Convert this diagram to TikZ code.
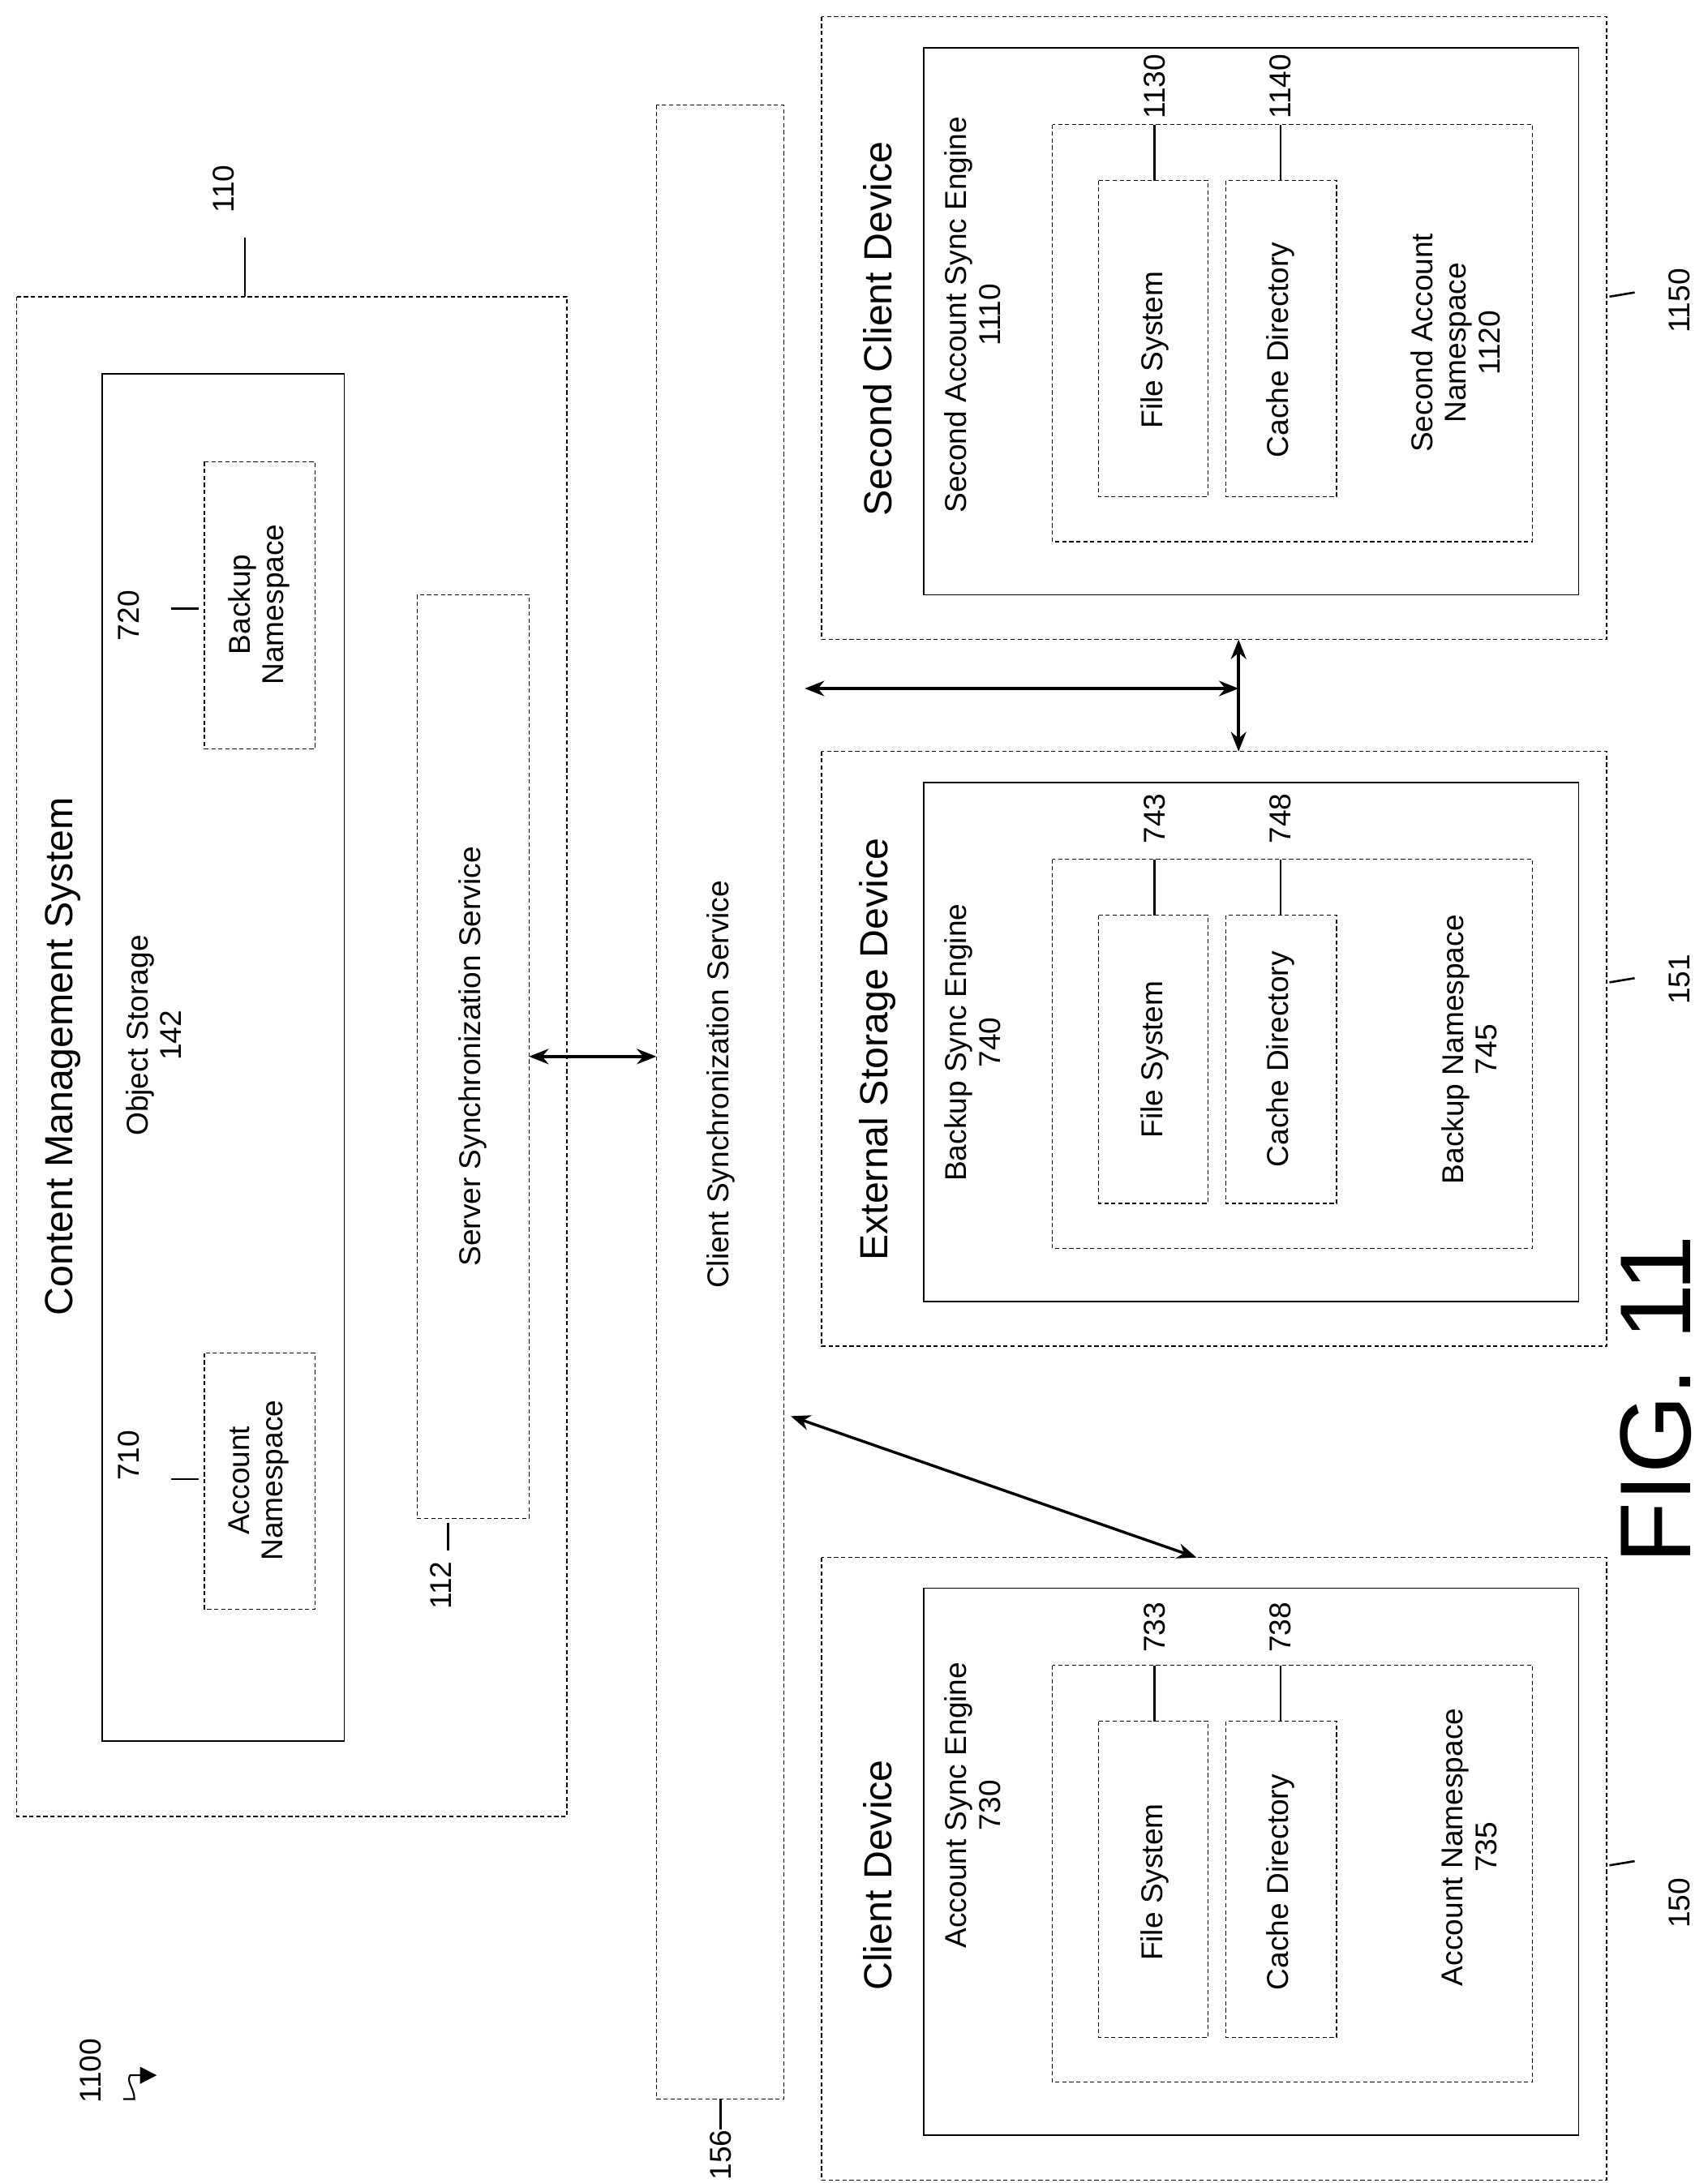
\documentclass[tikz,border=0pt]{standalone}
\usepackage{fontspec}
\setmainfont{Liberation Sans}
\usetikzlibrary{arrows.meta}
\tikzset{
  dbox/.style={draw,line width=0.8pt,dash pattern=on 3pt off 2pt},
  sbox/.style={draw,line width=1pt},
  lbl/.style={rotate=90,align=center,font=\fontsize{21.5}{24}\selectfont},
  ttl/.style={rotate=90,align=center,font=\fontsize{28}{31}\selectfont},
  lead/.style={line width=1.5pt},
  conn/.style={line width=2pt,{Stealth[length=14pt,width=11pt]}-{Stealth[length=14pt,width=11pt]}}
}
\begin{document}
\begin{tikzpicture}[x=1pt,y=-1pt]
\useasboundingbox (0,0) rectangle (1220,1560);
% Content management system
\draw[dbox] (12,212) rectangle (405,1298);
\draw[sbox] (73,267) rectangle (246,1244);
\draw[dbox] (146,967) rectangle (225,1150);
\draw[dbox] (146,330) rectangle (225,535);
\draw[dbox] (298,425) rectangle (378,1085);
\node[ttl] (cms) at (45,755) {Content Management System};
\node[lbl] (objst) at (110,740) {Object Storage\\142};
\node[lbl] (accns) at (185,1058) {Account\\Namespace};
\node[lbl] (bakns) at (185,432) {Backup\\Namespace};
\node[lbl] (sss) at (338,755) {Server Synchronization Service};
\node[lbl] (n710) at (92,1040) {710};
\draw[lead] (122,1057) -- (142,1057);
\node[lbl] (n720) at (92,440) {720};
\draw[lead] (122,435) -- (142,435);
\node[lbl] (n110) at (160,135) {110};
\draw[lead] (175,170) -- (175,212);
\node[lbl] (n112) at (315,1133) {112};
\draw[lead] (320,1088) -- (320,1108);
% Client synchronization service
\draw[dbox] (469,75) rectangle (560,1500);
\node[lbl] (css) at (515,775) {Client Synchronization Service};
\draw[lead] (515,1500) -- (515,1522);
\node[lbl] (n156) at (515,1540) {156};
% Devices
\foreach \t/\b in {12/457,537/962,1113/1558}{
  \draw[dbox] (587,\t) rectangle (1148,\b);
  \draw[sbox] (660,\t+22) rectangle (1128,\b-32);
  \draw[dbox] (752,\t+77) rectangle (1095,\b-70);
  \draw[dbox] (785,\t+117) rectangle (863,\b-102);
  \draw[dbox] (876,\t+117) rectangle (955,\b-102);
  \draw[lead] (825,\t+77) -- (825,\t+117);
  \draw[lead] (915,\t+77) -- (915,\t+117);
}
% second client device
\node[ttl] (scd) at (627,235) {Second Client Device};
\node[lbl] (sase) at (695,225) {Second Account Sync Engine\\1110};
\node[lbl] (sfs) at (825,250) {File System};
\node[lbl] (scd2) at (915,250) {Cache Directory};
\node[lbl] (sans) at (1040,245) {Second Account\\Namespace\\1120};
\node[lbl] (n1130) at (825,62) {1130};
\node[lbl] (n1140) at (915,62) {1140};
\draw[lead] (1150,212) -- (1168,209);
\node[lbl] (n1150) at (1200,215) {1150};
% external storage device
\node[ttl] (esd) at (627,750) {External Storage Device};
\node[lbl] (bse) at (695,745) {Backup Sync Engine\\740};
\node[lbl] (efs) at (825,757) {File System};
\node[lbl] (ecd) at (915,757) {Cache Directory};
\node[lbl] (ebns) at (1050,750) {Backup Namespace\\745};
\node[lbl] (n743) at (825,585) {743};
\node[lbl] (n748) at (915,585) {748};
\draw[lead] (1150,702) -- (1168,699);
\node[lbl] (n151) at (1200,700) {151};
% client device
\node[ttl] (cd) at (627,1340) {Client Device};
\node[lbl] (ase) at (695,1290) {Account Sync Engine\\730};
\node[lbl] (cfs) at (825,1345) {File System};
\node[lbl] (ccd) at (915,1345) {Cache Directory};
\node[lbl] (cans) at (1050,1320) {Account Namespace\\735};
\node[lbl] (n733) at (825,1163) {733};
\node[lbl] (n738) at (915,1163) {738};
\draw[lead] (1150,1333) -- (1168,1330);
\node[lbl] (n150) at (1200,1360) {150};
% connectors
\coordinate (a1) at (378,755);
\coordinate (a2) at (469,755);
\coordinate (b1) at (565,1012);
\coordinate (b2) at (855,1113);
\coordinate (c1) at (575,492);
\coordinate (c2) at (885,492);
\coordinate (d1) at (885,457);
\coordinate (d2) at (885,537);
\draw[conn] (a1) -- (a2);
\draw[conn] (b1) -- (b2);
\draw[conn] (c1) -- (c2);
\draw[conn] (d1) -- (d2);
% figure label
\node[rotate=90,font=\fontsize{72}{72}\selectfont] (fig) at (1183,1000) {FIG. 11};
\node[lbl] (n1100) at (65,1480) {1100};
\coordinate (s0) at (88,1500);
\coordinate (s1) at (112,1483);
\draw[line width=1.2pt,-{Triangle[length=12pt,width=12pt]}] (s0) -- (96,1500) .. controls (96,1492) and (90,1488) .. (93,1483) -- (s1);
\end{tikzpicture}
\end{document}
